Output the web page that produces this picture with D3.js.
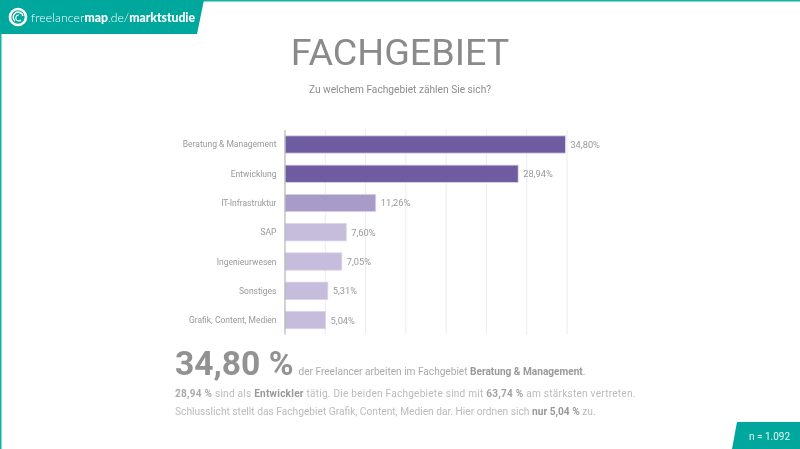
<!DOCTYPE html>
<html lang="de">
<head>
<meta charset="utf-8">
<title>Fachgebiet</title>
<script src="https://cdn.jsdelivr.net/npm/d3@7"></script>
<style>
    html, body { margin: 0; padding: 0; background: #fff; }
    svg { display: block; font-family: Roboto, sans-serif; }
    text.soft { filter: blur(0.35px); }
</style>
</head>
<body>
<svg id="chart" width="800" height="449"></svg>
<script>
    const categories = ["Beratung & Management", "Entwicklung", "IT-Infrastruktur", "SAP", "Ingenieurwesen", "Sonstiges", "Grafik, Content, Medien"];
    const values = [34.80, 28.94, 11.26, 7.60, 7.05, 5.31, 5.04];
    const valueLabels = ["34,80%", "28,94%", "11,26%", "7,60%", "7,05%", "5,31%", "5,04%"];
    const barColors = ["#6f5ba0", "#6f5ba0", "#a99bc7", "#c6bcdb", "#c6bcdb", "#c6bcdb", "#c6bcdb"];
    const gridTicks = [5, 10, 15, 20, 25, 30, 35];

    const teal = "#00a79d";
    const svg = d3.select("#chart");

    // frame is only on top and left
    svg.append("rect").attr("x", 0).attr("y", 0).attr("width", 800).attr("height", 1.5).attr("fill", "#10b3a9");
    svg.append("rect").attr("x", 0).attr("y", 0).attr("width", 1.5).attr("height", 449).attr("fill", "#10b3a9");
    svg.append("polygon").attr("points", "0,0 204,0 197,34 0,34").attr("fill", teal);
    svg.append("polygon").attr("points", "737,422 800,422 800,449 732,449").attr("fill", teal);

    // logo
    const logo = svg.append("g").attr("transform", "translate(18,17)").attr("fill", "none").attr("stroke", "#fff");
    logo.append("circle").attr("r", 8).attr("stroke-width", 2.6);
    logo.append("path").attr("d", "M-3,4 A5,5 0 1 1 5,-1").attr("stroke-width", 1.5);
    logo.append("path").attr("d", "M1,-2 A3,3 0 1 0 3,3").attr("stroke-width", 1.2);

    const brand = svg.append("text").attr("class", "soft").attr("x", 31).attr("y", 21.5).attr("fill", "#fff")
        .attr("font-family", "Lato, sans-serif").attr("font-size", 12.2);
    brand.append("tspan").attr("font-weight", 300).attr("letter-spacing", 0.1).text("freelancer");
    brand.append("tspan").attr("font-weight", 900).text("map");
    brand.append("tspan").attr("font-weight", 300).text(".de/");
    brand.append("tspan").attr("font-weight", 900).text("marktstudie");

    svg.append("text").attr("class", "soft").attr("x", 400).attr("y", 64.5).attr("text-anchor", "middle")
        .attr("fill", "#8a8a8a").attr("font-size", 37.7).text("FACHGEBIET");
    svg.append("text").attr("class", "soft").attr("x", 400).attr("y", 92.5).attr("text-anchor", "middle")
        .attr("fill", "#8c8c8c").attr("font-size", 10.2).text("Zu welchem Fachgebiet zählen Sie sich?");

    // scales
    const x = d3.scaleLinear().domain([0, 35]).range([285, 567]);
    const y = d3.scaleBand().domain(categories).range([130, 334.5]).paddingInner(0.41).paddingOuter(0.2);

    svg.append("g").selectAll("line").data(gridTicks).join("line")
        .attr("x1", d => x(d)).attr("x2", d => x(d)).attr("y1", 130).attr("y2", 334.5)
        .attr("stroke", "#ececec").attr("stroke-width", 1);

    svg.append("g").selectAll("rect").data(values).join("rect")
        .attr("x", x(0))
        .attr("y", (d, i) => y(categories[i]))
        .attr("width", d => x(d) - x(0))
        .attr("height", y.bandwidth())
        .attr("fill", (d, i) => barColors[i])
        .attr("stroke", "#d9d2e8").attr("stroke-width", 0.8);

    svg.append("line").attr("x1", x(0)).attr("x2", x(0)).attr("y1", 130).attr("y2", 334.5)
        .attr("stroke", "#b5b5b5").attr("stroke-width", 1.2);

    svg.append("g").selectAll("text").data(categories).join("text")
        .attr("class", "soft")
        .attr("x", 276.5)
        .attr("y", d => y(d) + y.bandwidth() / 2 + 3)
        .attr("text-anchor", "end").attr("fill", "#999").attr("font-size", 8.5)
        .text(d => d);

    svg.append("g").selectAll("text").data(values).join("text")
        .attr("class", "soft")
        .attr("x", d => x(d) + 5)
        .attr("y", (d, i) => y(categories[i]) + y.bandwidth() / 2 + 3.5)
        .attr("fill", "#999").attr("font-size", 9.3)
        .text((d, i) => valueLabels[i]);

    // text block under the chart
    const line1 = svg.append("text").attr("class", "soft").attr("x", 175).attr("y", 375).attr("fill", "#aaa");
    line1.append("tspan").attr("font-size", 33.6).attr("font-weight", 700).attr("fill", "#929292").text("34,80 %");
    line1.append("tspan").attr("dx", 5).attr("font-size", 10.1).text("der Freelancer arbeiten im Fachgebiet ");
    line1.append("tspan").attr("font-size", 10.1).attr("font-weight", 700).attr("fill", "#999").text("Beratung & Management");
    line1.append("tspan").attr("font-size", 10.1).text(".");

    const line2 = svg.append("text").attr("class", "soft").attr("x", 175).attr("y", 396.5).attr("fill", "#bbb").attr("font-size", 10.1).attr("letter-spacing", 0.23);
    line2.append("tspan").attr("font-weight", 700).attr("fill", "#aaa").text("28,94 %");
    line2.append("tspan").text(" sind als ");
    line2.append("tspan").attr("font-weight", 700).attr("fill", "#999").text("Entwickler");
    line2.append("tspan").text(" tätig. Die beiden Fachgebiete sind mit ");
    line2.append("tspan").attr("font-weight", 700).attr("fill", "#a3a3a3").text("63,74 %");
    line2.append("tspan").text(" am stärksten vertreten.");

    const line3 = svg.append("text").attr("class", "soft").attr("x", 175).attr("y", 414.7).attr("fill", "#bbb").attr("font-size", 10.2);
    line3.append("tspan").text("Schlusslicht stellt das Fachgebiet Grafik, Content, Medien dar. Hier ordnen sich ");
    line3.append("tspan").attr("font-weight", 700).attr("fill", "#999").text("nur 5,04 %");
    line3.append("tspan").text(" zu.");

    svg.append("text").attr("class", "soft").attr("x", 769.5).attr("y", 440).attr("text-anchor", "middle")
        .attr("fill", "#e6f6f5").attr("font-size", 10).text("n = 1.092");
</script>
</body>
</html>
